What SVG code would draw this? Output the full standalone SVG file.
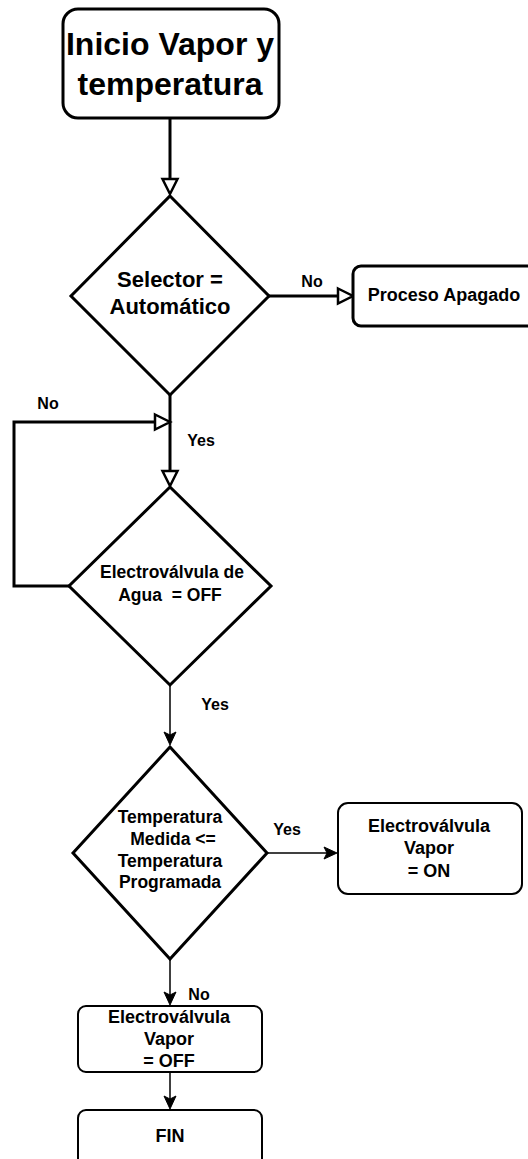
<svg xmlns="http://www.w3.org/2000/svg" width="528" height="1159" viewBox="0 0 528 1159">
  <style>
    .thick { fill: #ffffff; stroke: #000000; stroke-width: 3; }
    .thin { fill: #ffffff; stroke: #000000; stroke-width: 2; }
    .wire { fill: none; stroke: #000000; stroke-width: 3; }
    .wire-thin { fill: none; stroke: #000000; stroke-width: 1.5; }
    text { font-family: "Liberation Sans", Arial, sans-serif; font-weight: bold; fill: #000000; text-anchor: middle; }
    .title { font-size: 32px; }
    .big { font-size: 22px; }
    .mid { font-size: 18px; }
    .body { font-size: 17.5px; }
    .lbl { font-size: 16px; }
  </style>
  <defs>
    <!-- hollow triangle head; reference point sits at the base of the triangle -->
    <marker id="open" markerUnits="userSpaceOnUse" markerWidth="20" markerHeight="20" refX="0" refY="0" orient="auto" overflow="visible">
      <path d="M0,-7.5 L15,0 L0,7.5 Z" fill="#ffffff" stroke="#000000" stroke-width="2.5" stroke-linejoin="miter"/>
    </marker>
    <!-- filled classic head; reference point sits at the notch -->
    <marker id="classic" markerUnits="userSpaceOnUse" markerWidth="20" markerHeight="20" refX="0" refY="0" orient="auto" overflow="visible">
      <path d="M-3,-6 L10,0 L-3,6 L0,0 Z" fill="#000000" stroke="#000000" stroke-width="1"/>
    </marker>
  </defs>

  <g id="connectors">
    <path class="wire" d="M170,118 V179" marker-end="url(#open)"/>
    <path class="wire" d="M269,296 H338" marker-end="url(#open)"/>
    <path class="wire" d="M170,395 V471" marker-end="url(#open)"/>
    <path class="wire" d="M69,586 H14 V422 H155" marker-end="url(#open)"/>
    <path class="wire-thin" d="M170,685 V735" marker-end="url(#classic)"/>
    <path class="wire-thin" d="M267,853 H327" marker-end="url(#classic)"/>
    <path class="wire-thin" d="M170,959 V995" marker-end="url(#classic)"/>
    <path class="wire-thin" d="M170,1072 V1099" marker-end="url(#classic)"/>
    <text class="lbl" x="312" y="287">No</text>
    <text class="lbl" x="48" y="409">No</text>
    <text class="lbl" x="201" y="446">Yes</text>
    <text class="lbl" x="215" y="710">Yes</text>
    <text class="lbl" x="287" y="835">Yes</text>
    <text class="lbl" x="199" y="1000">No</text>
  </g>

  <g id="start">
    <rect class="thick" x="63" y="9" width="216" height="109" rx="15"/>
    <text class="title" x="170" y="55">Inicio Vapor y</text>
    <text class="title" x="170" y="95">temperatura</text>
  </g>

  <g id="selector">
    <polygon class="thick" points="170,196 269,296 170,395 71,296"/>
    <text class="big" x="170" y="287">Selector =</text>
    <text class="big" x="170" y="314">Automático</text>
  </g>

  <g id="proceso-apagado">
    <rect class="thick" x="353" y="266" width="200" height="60" rx="8"/>
    <text class="mid" x="444" y="301">Proceso Apagado</text>
  </g>

  <g id="agua">
    <polygon class="thick" points="170,487 271,586 170,685 69,586"/>
    <text class="body" x="172" y="578">Electroválvula de</text>
    <text class="body" x="170" y="601" xml:space="preserve">Agua  = OFF</text>
  </g>

  <g id="temperatura">
    <polygon class="thick" points="170,747 267,853 170,959 73,853"/>
    <text class="body" x="170" y="823">Temperatura</text>
    <text class="body" x="173" y="845">Medida &lt;=</text>
    <text class="body" x="170" y="867">Temperatura</text>
    <text class="body" x="170" y="888">Programada</text>
  </g>

  <g id="vapor-on">
    <rect class="thin" x="338" y="803" width="184" height="91" rx="10"/>
    <text class="mid" x="429" y="832">Electroválvula</text>
    <text class="mid" x="429" y="854">Vapor</text>
    <text class="mid" x="429" y="877">= ON</text>
  </g>

  <g id="vapor-off">
    <rect class="thin" x="78" y="1006" width="184" height="66" rx="8"/>
    <text class="mid" x="169" y="1023">Electroválvula</text>
    <text class="mid" x="169" y="1045">Vapor</text>
    <text class="mid" x="169" y="1067">= OFF</text>
  </g>

  <g id="fin">
    <rect class="thin" x="78" y="1110" width="184" height="70" rx="8"/>
    <text class="mid" x="170" y="1142">FIN</text>
  </g>
</svg>
